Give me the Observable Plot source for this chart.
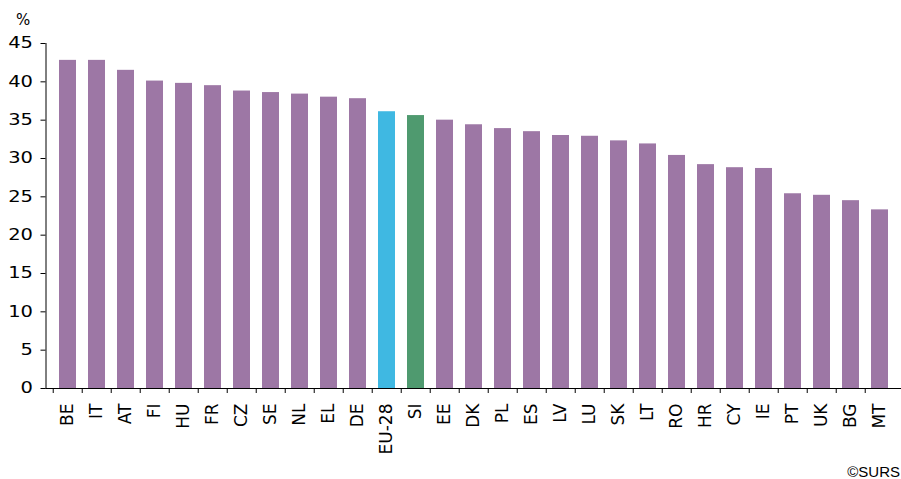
<!DOCTYPE html>
<html>
<head>
<meta charset="utf-8">
<script src="https://cdn.jsdelivr.net/npm/d3@7"></script>
<script src="https://cdn.jsdelivr.net/npm/@observablehq/plot@0.6"></script>
<style>
  html, body { margin: 0; padding: 0; background: #fff; overflow: hidden; }
  #wrap { position: relative; width: 901px; height: 479px; overflow: hidden; }
  #caption { position: absolute; right: 1px; top: 463px; font: 15px/17px "Liberation Sans", Arial, sans-serif; white-space: nowrap; color: #000; }
</style>
</head>
<body>
<div id="wrap">
  <div id="chart"></div>
  <div id="caption">©SURS</div>
</div>
<script>
const categories = ["BE","IT","AT","FI","HU","FR","CZ","SE","NL","EL","DE","EU-28","SI","EE","DK","PL","ES","LV","LU","SK","LT","RO","HR","CY","IE","PT","UK","BG","MT"];
const values = [42.8,42.8,41.5,40.1,39.8,39.5,38.8,38.6,38.4,38.0,37.8,36.1,35.6,35.0,34.4,33.9,33.5,33.0,32.9,32.3,31.9,30.4,29.2,28.8,28.7,25.4,25.2,24.5,23.3];
const yTicks = [0,5,10,15,20,25,30,35,40,45];
const yUnit = ["%"];

const data = categories.map((c, i) => ({c, v: values[i]}));

const W = 901, H = 460, mL = 45.5, mR = -1, mT = 43, mB = 72;
const pIn = 0.43, pOut = 0.215;
const step = (W - mL - mR) / (categories.length - pIn + 2 * pOut);

const purple = "#9d77a5", blue = "#3fb8e2", green = "#4f9a6f";
const colorOf = d => d.c === "EU-28" ? blue : d.c === "SI" ? green : purple;

const chart = Plot.plot({
  width: W,
  height: H,
  marginLeft: mL,
  marginRight: mR,
  marginTop: mT,
  marginBottom: mB,
  style: {fontFamily: "DejaVu Sans, sans-serif", fontSize: "14px", color: "#000", background: "#fff"},
  x: {domain: categories, paddingInner: pIn, paddingOuter: pOut, align: 0.5, axis: null},
  y: {domain: [0, 45], axis: null},
  marks: [
    Plot.barY(data, {x: "c", y: "v", fill: colorOf}),
    Plot.axisY({ticks: yTicks, tickSize: 5, tickPadding: 8, label: null, fontSize: 15, ariaLabel: "yaxis"}),
    Plot.frame({anchor: "left", stroke: "#000"}),
    Plot.ruleY([0], {stroke: "#000"}),
    Plot.axisX({tickSize: 5, tickFormat: () => "", dx: -step / 2, label: null}),
    Plot.axisX({tickSize: 0, tickPadding: 15, tickRotate: -90, label: null, fontSize: 17}),
    Plot.text(yUnit, {text: d => d, frameAnchor: "top-left", dx: -30, dy: -29, fontSize: 15, ariaLabel: "unit"})
  ]
});
document.getElementById("chart").appendChild(chart);

// widen the y tick labels horizontally, as in the reference (scaled about their anchor)
function stretch(sel, sx) {
  chart.querySelectorAll(sel).forEach(t => {
    const x = t.getAttribute("x"), y = t.getAttribute("y");
    if (x != null) {
      const xx = +x, yy = +(y || 0);
      const prev = t.getAttribute("transform") || "";
      t.setAttribute("transform", `${prev} translate(${xx},${yy}) scale(${sx},1) translate(${-xx},${-yy})`);
    } else {
      const tr = t.getAttribute("transform");
      if (tr && tr.includes("translate(")) {
        t.setAttribute("transform", tr.replace(/translate\(([^)]*)\)/, (m) => `${m} scale(${sx},1)`));
      }
    }
  });
}
stretch('g[aria-label="yaxis tick label"] text', 1.3);
stretch('g[aria-label="y-axis tick label"] text', 1.3);
stretch('g[aria-label="unit"] text', 1.1);
</script>
</body>
</html>
